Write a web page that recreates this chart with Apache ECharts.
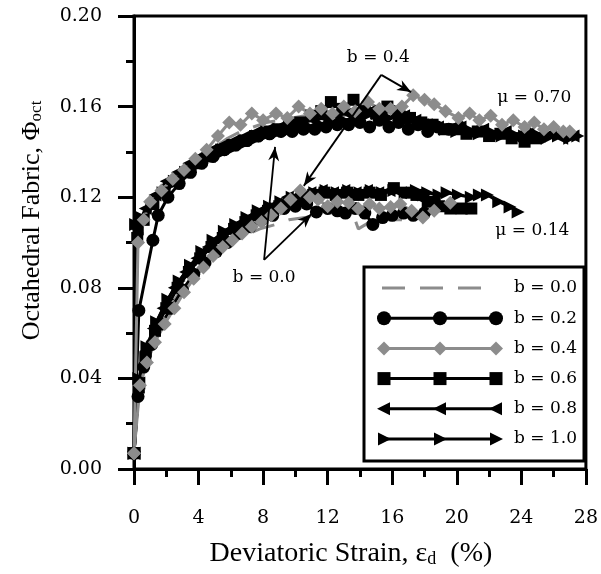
<!DOCTYPE html>
<html><head><meta charset="utf-8">
<script src="https://cdn.jsdelivr.net/npm/echarts/dist/echarts.min.js"></script>
<style>html,body{margin:0;padding:0;background:#fff}#c{width:601px;height:574px}</style>
</head><body><div id="c"></div>
<script>
// ---- axis ticks ----
const xTicks = [0, 4, 8, 12, 16, 20, 24, 28];
const yTicks = [0.00, 0.04, 0.08, 0.12, 0.16, 0.20];

// ---- series values [strain %, fabric] ----
// mu = 0.70 (upper family)
const b00_hi = [[0,0.007],[0.15,0.098],[0.5,0.108],[1.0,0.114],[1.8,0.121],[2.6,0.128],[3.4,0.133],[4.2,0.138],[5.0,0.142],[5.8,0.146],[6.6,0.149],[7.4,0.151],[8.2,0.153],[9.0,0.154],[9.8,0.155],[10.6,0.156],[11.4,0.157],[12.2,0.157],[13.0,0.156],[13.8,0.158],[14.6,0.156],[15.4,0.155],[16.2,0.157],[17.0,0.154],[17.8,0.152],[18.6,0.151],[19.4,0.152],[20.2,0.150],[21.0,0.151],[21.8,0.149]];
const b02_hi = [[0,0.007],[0.3,0.070],[1.17,0.101],[1.5,0.112],[2.1,0.120],[2.8,0.126],[3.5,0.131],[4.2,0.135],[4.9,0.138],[5.6,0.141],[6.3,0.143],[7.0,0.145],[7.7,0.147],[8.4,0.148],[9.1,0.149],[9.8,0.149],[10.5,0.150],[11.2,0.150],[11.9,0.151],[12.6,0.152],[13.3,0.152],[14.0,0.153],[14.6,0.151],[15.2,0.154],[15.8,0.151],[16.4,0.153],[17.0,0.150],[17.6,0.152],[18.2,0.149],[18.8,0.151],[19.5,0.150],[20.2,0.151]];
const b04_hi = [[0,0.007],[0.25,0.100],[0.6,0.110],[1.0,0.118],[1.7,0.123],[2.4,0.128],[3.1,0.132],[3.8,0.137],[4.5,0.141],[5.2,0.147],[5.9,0.153],[6.6,0.152],[7.3,0.157],[8.0,0.154],[8.8,0.157],[9.5,0.155],[10.2,0.160],[10.9,0.157],[11.6,0.159],[12.3,0.157],[13.0,0.160],[13.7,0.158],[14.5,0.162],[15.2,0.159],[15.9,0.159],[16.6,0.160],[17.3,0.165],[18.0,0.163],[18.6,0.161],[19.3,0.158],[20.1,0.155],[20.8,0.157],[21.4,0.154],[22.1,0.156],[22.8,0.152],[23.5,0.154],[24.2,0.151],[24.8,0.153],[25.4,0.150],[26.0,0.151],[26.6,0.149],[27.0,0.149]];
const b06_hi = [[0,0.007],[0.2,0.102],[0.6,0.110],[1.2,0.117],[1.9,0.122],[2.6,0.127],[3.3,0.131],[4.0,0.135],[4.7,0.138],[5.4,0.141],[6.1,0.143],[6.8,0.145],[7.5,0.147],[8.2,0.149],[8.9,0.150],[9.6,0.152],[10.3,0.153],[11.0,0.156],[11.6,0.158],[12.2,0.162],[12.9,0.159],[13.6,0.163],[14.3,0.158],[15.0,0.157],[15.7,0.160],[16.4,0.156],[17.1,0.155],[17.8,0.153],[18.5,0.152],[19.2,0.150],[19.9,0.150],[20.6,0.148],[21.3,0.149],[22.0,0.147],[22.7,0.148],[23.4,0.146],[24.2,0.1445],[24.9,0.146]];
const b08_hi = [[0,0.007],[0.2,0.106],[0.7,0.115],[1.3,0.121],[2.0,0.127],[2.7,0.131],[3.4,0.135],[4.1,0.138],[4.8,0.141],[5.5,0.143],[6.2,0.145],[6.9,0.147],[7.6,0.149],[8.3,0.150],[9.0,0.151],[9.7,0.152],[10.4,0.153],[11.1,0.154],[11.8,0.155],[12.5,0.156],[13.2,0.157],[13.9,0.157],[14.6,0.158],[15.3,0.157],[16.0,0.158],[16.7,0.156],[17.4,0.154],[18.1,0.152],[18.8,0.151],[19.5,0.150],[20.2,0.151],[20.9,0.149],[21.6,0.150],[22.3,0.148],[23.0,0.149],[23.7,0.147],[24.4,0.148],[25.1,0.147],[25.8,0.148],[26.5,0.146],[27.2,0.147]];
const b10_hi = [[0,0.007],[0.1,0.108],[0.5,0.111],[1.1,0.116],[1.8,0.122],[2.5,0.127],[3.2,0.131],[3.9,0.134],[4.6,0.137],[5.3,0.139],[6.0,0.141],[6.7,0.143],[7.4,0.145],[8.1,0.147],[8.8,0.148],[9.5,0.149],[10.2,0.150],[10.9,0.151],[11.6,0.152],[12.3,0.153],[13.0,0.154],[13.7,0.155],[14.4,0.156],[15.1,0.157],[15.8,0.155],[16.5,0.158],[17.2,0.155],[17.9,0.153],[18.6,0.152],[19.3,0.150],[20.0,0.149],[20.7,0.150],[21.4,0.148],[22.1,0.149],[22.8,0.147],[23.5,0.148],[24.2,0.147],[24.9,0.148],[25.6,0.146],[26.3,0.147],[27.0,0.146],[27.5,0.147]];
// mu = 0.14 (lower family)
const b00_lo = [[0,0.007],[0.3,0.034],[0.8,0.049],[1.4,0.060],[2.1,0.070],[2.9,0.079],[3.8,0.087],[4.8,0.094],[5.8,0.099],[6.8,0.103],[7.8,0.106],[8.8,0.108],[9.6,0.110],[10.6,0.111],[11.6,0.113],[12.6,0.113],[13.5,0.114],[13.9,0.106],[14.6,0.109],[15.6,0.110],[16.6,0.110]];
const b02_lo = [[0,0.007],[0.25,0.032],[0.6,0.045],[1.1,0.055],[1.7,0.064],[2.3,0.071],[3.0,0.079],[3.7,0.086],[4.4,0.091],[5.1,0.096],[5.8,0.100],[6.5,0.104],[7.2,0.107],[7.9,0.110],[8.6,0.112],[9.3,0.115],[10.0,0.116],[10.7,0.117],[11.3,0.1135],[12.0,0.115],[12.6,0.114],[13.1,0.113],[13.7,0.115],[14.3,0.113],[14.8,0.108],[15.4,0.111],[16.0,0.112],[16.7,0.113],[17.3,0.112],[18.0,0.113]];
const b04_lo = [[0,0.007],[0.37,0.037],[0.8,0.047],[1.3,0.056],[1.9,0.064],[2.5,0.071],[3.1,0.078],[3.7,0.084],[4.3,0.089],[4.9,0.094],[5.5,0.098],[6.1,0.101],[6.7,0.104],[7.3,0.107],[7.9,0.109],[8.5,0.112],[9.1,0.115],[9.7,0.119],[10.3,0.123],[10.9,0.120],[11.4,0.119],[12.0,0.116],[12.6,0.118],[13.3,0.1175],[13.9,0.115],[14.6,0.117],[15.2,0.115],[15.9,0.1157],[16.5,0.117],[17.2,0.114],[17.9,0.111],[18.6,0.114],[19.6,0.1175]];
const b06_lo = [[0,0.007],[0.3,0.036],[0.7,0.049],[1.3,0.061],[2.0,0.071],[2.7,0.080],[3.4,0.087],[4.1,0.093],[4.8,0.098],[5.5,0.102],[6.2,0.106],[6.9,0.109],[7.6,0.112],[8.3,0.114],[9.0,0.116],[9.7,0.118],[10.4,0.120],[11.1,0.121],[11.8,0.122],[12.5,0.121],[13.2,0.122],[13.9,0.121],[14.6,0.122],[15.3,0.121],[16.1,0.124],[16.8,0.122],[17.5,0.121],[18.2,0.118],[18.9,0.116],[19.6,0.115],[20.3,0.115],[20.9,0.115]];
const b08_lo = [[0,0.007],[0.3,0.038],[0.7,0.052],[1.2,0.062],[1.8,0.071],[2.5,0.080],[3.2,0.087],[3.9,0.093],[4.6,0.098],[5.3,0.102],[6.0,0.106],[6.7,0.109],[7.4,0.112],[8.1,0.115],[8.8,0.117],[9.5,0.120],[10.2,0.121],[10.9,0.122],[11.6,0.123],[12.3,0.122],[13.0,0.123],[13.7,0.122],[14.4,0.123],[15.1,0.122],[15.8,0.123],[16.5,0.122],[17.2,0.121],[17.9,0.119],[18.6,0.118]];
const b10_lo = [[0,0.007],[0.3,0.040],[0.8,0.054],[1.4,0.065],[2.1,0.075],[2.8,0.083],[3.5,0.090],[4.2,0.096],[4.9,0.101],[5.6,0.105],[6.3,0.108],[7.0,0.111],[7.7,0.114],[8.4,0.116],[9.1,0.118],[9.8,0.120],[10.5,0.121],[11.2,0.122],[11.9,0.123],[12.6,0.122],[13.3,0.123],[14.0,0.122],[14.7,0.123],[15.4,0.122],[16.1,0.123],[16.8,0.122],[17.5,0.123],[18.2,0.122],[18.9,0.121],[19.4,0.122],[20.1,0.121],[20.9,0.120],[21.4,0.121],[21.9,0.121],[22.6,0.118],[23.3,0.1157],[23.8,0.1135]];

const seriesNames = ['b = 0.0','b = 0.2','b = 0.4','b = 0.6','b = 0.8','b = 1.0'];
const seriesHi = [b00_hi, b02_hi, b04_hi, b06_hi, b08_hi, b10_hi];
const seriesLo = [b00_lo, b02_lo, b04_lo, b06_lo, b08_lo, b10_lo];

// ---- styles (kept apart from the data) ----
const GRAY = '#8c8c8c';
const looks = [
  {color: GRAY,   symbol: 'none',     size: 0,  rotate: 0,   dash: [23, 15]},
  {color: '#000', symbol: 'circle',   size: 13, rotate: 0,   dash: 'solid'},
  {color: GRAY,   symbol: 'diamond',  size: 14, rotate: 0,   dash: 'solid'},
  {color: '#000', symbol: 'rect',     size: 12, rotate: 0,   dash: 'solid'},
  {color: '#000', symbol: 'triangle', size: 13, rotate: 90,  dash: 'solid'},
  {color: '#000', symbol: 'triangle', size: 13, rotate: -90, dash: 'solid'}
];
const drawOrder = [0, 1, 4, 5, 3, 2];

const series = [];
drawOrder.forEach(i => {
  [seriesHi[i], seriesLo[i]].forEach(d => {
    const lk = looks[i];
    series.push({
      name: seriesNames[i], type: 'line', data: d,
      symbol: lk.symbol, symbolSize: lk.size, symbolRotate: lk.rotate,
      showSymbol: lk.symbol !== 'none', showAllSymbol: true,
      lineStyle: {color: lk.color, width: 3, type: lk.dash},
      itemStyle: {color: lk.color, borderWidth: 0},
      emphasis: {disabled: true}, silent: true, clip: true
    });
  });
});

const SERIF = 'DejaVu Serif';
const TITLE = 'Liberation Serif';
const chart = echarts.init(document.getElementById('c'));
chart.setOption({
  animation: false,
  backgroundColor: '#fff',
  grid: {left: 134, right: 12, top: 16, bottom: 105, show: true, borderColor: '#000', borderWidth: 3, backgroundColor: 'transparent'},
  xAxis: {
    type: 'value', min: xTicks[0], max: xTicks[xTicks.length - 1], interval: xTicks[1] - xTicks[0],
    axisLine: {lineStyle: {color: '#000', width: 3}},
    axisTick: {length: 16, lineStyle: {color: '#000', width: 3}},
    minorTick: {show: true, splitNumber: 2, length: 8, lineStyle: {color: '#000', width: 3}},
    splitLine: {show: false},
    axisLabel: {margin: 40, color: '#000', fontFamily: SERIF, fontSize: 19},
    name: '{t|Deviatoric Strain, ε}{s|d}{t|  (%)}', nameLocation: 'middle', nameGap: 67,
    nameTextStyle: {padding: [0, 18, 0, 0], rich: {
      t: {fontFamily: TITLE, fontSize: 28, color: '#000', lineHeight: 32, verticalAlign: 'bottom'},
      s: {fontFamily: TITLE, fontSize: 18, color: '#000', lineHeight: 18, verticalAlign: 'bottom'}}}
  },
  yAxis: {
    type: 'value', min: yTicks[0], max: yTicks[yTicks.length - 1], interval: yTicks[1] - yTicks[0],
    axisLine: {lineStyle: {color: '#000', width: 3}},
    axisTick: {length: 16, lineStyle: {color: '#000', width: 3}},
    minorTick: {show: true, splitNumber: 2, length: 8, lineStyle: {color: '#000', width: 3}},
    splitLine: {show: false},
    axisLabel: {margin: 32, color: '#000', fontFamily: SERIF, fontSize: 19, formatter: v => v.toFixed(2)},
    name: '{t|Octahedral Fabric, Φ}{s|oct}', nameLocation: 'middle', nameGap: 89,
    nameTextStyle: {padding: [0, 0, 0, 44], rich: {
      t: {fontFamily: TITLE, fontSize: 26, color: '#000', lineHeight: 32, verticalAlign: 'bottom'},
      s: {fontFamily: TITLE, fontSize: 17, color: '#000', lineHeight: 17, verticalAlign: 'bottom'}}}
  },
  series: series
});

// ---- annotations (data coordinates) ----
const annotations = [
  {text: 'b = 0.4', at: [15.14, 0.1815], vertex: [15.32, 0.174], tips: [[17.17, 0.1664], [10.52, 0.125]]},
  {text: 'b = 0.0', at: [8.06, 0.0843], vertex: [8.06, 0.0923], tips: [[8.74, 0.1422], [11.0, 0.1126]]}
];
const muLabels = [
  {text: 'μ = 0.70', at: [24.8, 0.1638]},
  {text: 'μ = 0.14', at: [24.68, 0.1051]}
];

const px = p => chart.convertToPixel({gridIndex: 0}, p);
function head(p0, p1) {
  const dx = p1[0] - p0[0], dy = p1[1] - p0[1], L = Math.hypot(dx, dy);
  const ux = dx / L, uy = dy / L, nx = -uy, ny = ux;
  const len = 14, half = 5.5, notch = 4;
  const bx = p1[0] - ux * len, by = p1[1] - uy * len;
  return [[p1[0], p1[1]], [bx + nx * half, by + ny * half], [p1[0] - ux * (len - notch), p1[1] - uy * (len - notch)], [bx - nx * half, by - ny * half]];
}
const g = [];
annotations.forEach(a => {
  const v = px(a.vertex), t = px(a.at);
  g.push({type: 'text', x: t[0], y: t[1], style: {text: a.text, font: '17px "DejaVu Serif"', fill: '#000', align: 'center', verticalAlign: 'middle'}, z: 100});
  a.tips.forEach(tp => {
    const e = px(tp);
    g.push({type: 'line', shape: {x1: v[0], y1: v[1], x2: e[0], y2: e[1]}, style: {stroke: '#000', lineWidth: 1.8}, z: 100});
    g.push({type: 'polygon', shape: {points: head(v, e)}, style: {fill: '#000'}, z: 100});
  });
});
muLabels.forEach(m => {
  const t = px(m.at);
  g.push({type: 'text', x: t[0], y: t[1], style: {text: m.text, font: '17px "DejaVu Serif"', fill: '#000', align: 'center', verticalAlign: 'middle'}, z: 100});
});

// ---- legend box ----
g.push({type: 'rect', shape: {x: 364, y: 267, width: 220, height: 194}, style: {fill: '#fff', stroke: '#000', lineWidth: 3}, z: 90});
seriesNames.forEach((nm, i) => {
  const lk = looks[i];
  const cy = 288 + i * 30.2;
  if (lk.symbol === 'none') {
    g.push({type: 'line', shape: {x1: 382, y1: cy, x2: 483, y2: cy}, style: {stroke: lk.color, lineWidth: 3, lineDash: lk.dash}, z: 95});
  } else {
    g.push({type: 'line', shape: {x1: 384, y1: cy, x2: 496, y2: cy}, style: {stroke: lk.color, lineWidth: 3}, z: 95});
    [384, 440, 496].forEach(cx => {
      let el;
      if (lk.symbol === 'circle') el = {type: 'circle', shape: {cx: cx, cy: cy, r: 7}};
      else if (lk.symbol === 'rect') el = {type: 'rect', shape: {x: cx - 6.5, y: cy - 6.5, width: 13, height: 13}};
      else if (lk.symbol === 'diamond') el = {type: 'polygon', shape: {points: [[cx, cy - 7], [cx + 7, cy], [cx, cy + 7], [cx - 7, cy]]}};
      else if (lk.rotate > 0) el = {type: 'polygon', shape: {points: [[cx - 7, cy], [cx + 6, cy - 6.5], [cx + 6, cy + 6.5]]}};
      else el = {type: 'polygon', shape: {points: [[cx + 7, cy], [cx - 6, cy - 6.5], [cx - 6, cy + 6.5]]}};
      el.style = {fill: lk.color}; el.z = 96;
      g.push(el);
    });
  }
  g.push({type: 'text', x: 514, y: cy, style: {text: nm, font: '17px "DejaVu Serif"', fill: '#000', align: 'left', verticalAlign: 'middle'}, z: 96});
});
chart.setOption({graphic: g});
</script></body></html>
